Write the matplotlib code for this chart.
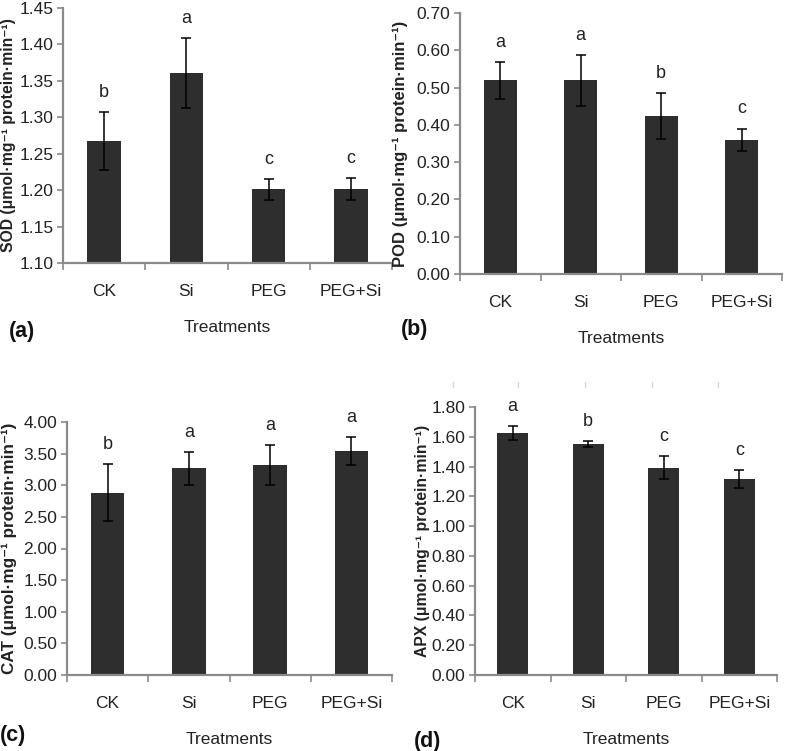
import numpy as np
import matplotlib.pyplot as plt
from matplotlib.lines import Line2D

# treatments on the x axis (same in every panel)
treatments = ['CK', 'Si', 'PEG', 'PEG+Si']

# (a) SOD
sod_mean = [1.267, 1.361, 1.201, 1.201]
sod_err = [0.040, 0.048, 0.014, 0.015]
sod_letters = ['b', 'a', 'c', 'c']

# (b) POD
pod_mean = [0.519, 0.519, 0.424, 0.360]
pod_err = [0.050, 0.068, 0.062, 0.030]
pod_letters = ['a', 'a', 'b', 'c']

# (c) CAT
cat_mean = [2.88, 3.27, 3.32, 3.54]
cat_err = [0.45, 0.26, 0.31, 0.22]
cat_letters = ['b', 'a', 'a', 'a']

# (d) APX
apx_mean = [1.625, 1.552, 1.392, 1.316]
apx_err = [0.047, 0.022, 0.078, 0.058]
apx_letters = ['a', 'b', 'c', 'c']

W, H = 787, 751
PLAIN = ['Liberation Sans', 'DejaVu Sans']
BOLD = ['Liberation Sans', 'DejaVu Sans']
AXIS_GRAY = '#8a8a8a'
BAR_COLOR = '#2e2e2e'
TEXT = '#222222'


def box(left, top, right, bottom):
    """Pixel box -> figure fraction [l, b, w, h]."""
    return [left / W, 1 - bottom / H, (right - left) / W, (bottom - top) / H]


def draw_panel(ax, means, errs, letters, ylabel, ylim, step, label_x, ylabel_size):
    x = np.arange(len(treatments))
    ax.bar(x, means, width=0.41, color=BAR_COLOR, zorder=2)
    ax.errorbar(x, means, yerr=errs, fmt='none', ecolor='black',
                elinewidth=1.1, capsize=3.5, capthick=1.1, zorder=3)
    for xi, m, e, t in zip(x, means, errs, letters):
        ax.annotate(t, (xi, m + e), xytext=(0, 8), textcoords='offset points',
                    ha='center', va='bottom', fontsize=13, family=PLAIN,
                    color=TEXT)

    ax.set_xlim(-0.5, len(treatments) - 0.5)
    ax.set_ylim(*ylim)
    ax.set_yticks(np.arange(ylim[0], ylim[1] + step / 2, step))
    ax.set_yticklabels([f'{v:.2f}' for v in ax.get_yticks()])
    ax.set_xticks(x)
    ax.set_xticklabels(treatments)
    ax.set_xticks(np.arange(-0.5, len(treatments)), minor=True)

    for s in ['top', 'right']:
        ax.spines[s].set_visible(False)
    for s in ['left', 'bottom']:
        ax.spines[s].set_color(AXIS_GRAY)
        ax.spines[s].set_linewidth(1.6)

    ax.tick_params(axis='x', which='major', length=0, pad=15)
    ax.tick_params(axis='x', which='minor', length=5, width=1.2,
                   color=AXIS_GRAY, direction='out')
    ax.tick_params(axis='y', length=4, width=1.2, color=AXIS_GRAY,
                   direction='out', pad=3)
    for lab in ax.get_xticklabels() + ax.get_yticklabels():
        lab.set_family(PLAIN)
        lab.set_fontsize(12.5)
        lab.set_color(TEXT)

    ax.set_xlabel('Treatments', fontsize=12.5, family=PLAIN, color=TEXT,
                  labelpad=15)
    ax.set_ylabel(ylabel, fontsize=ylabel_size, family=BOLD,
                  fontweight='bold', color=TEXT, va='center')
    ax.yaxis.set_label_coords(label_x, 0.5)


fig = plt.figure(figsize=(W / 100, H / 100), dpi=100)

ax_a = fig.add_axes(box(63, 8, 392, 263))
ax_b = fig.add_axes(box(460, 13, 782, 274))
ax_c = fig.add_axes(box(67, 422, 392, 675))
ax_d = fig.add_axes(box(475, 407, 777, 675))

draw_panel(ax_a, sod_mean, sod_err, sod_letters,
           'SOD (μmol·mg⁻¹ protein·min⁻¹)', (1.10, 1.45), 0.05, -54 / 329, 11.3)
draw_panel(ax_b, pod_mean, pod_err, pod_letters,
           'POD (μmol·mg⁻¹ protein·min⁻¹)', (0.0, 0.70), 0.10, -60 / 322, 12)
draw_panel(ax_c, cat_mean, cat_err, cat_letters,
           'CAT (μmol·mg⁻¹ protein·min⁻¹)', (0.0, 4.0), 0.50, -58 / 325, 12.3)
draw_panel(ax_d, apx_mean, apx_err, apx_letters,
           'APX (μmol·mg⁻¹ protein·min⁻¹)', (0.0, 1.80), 0.20, -53 / 302, 11.3)

# panel letters
for txt, px, py in [('(a)', 22, 332), ('(b)', 415, 330),
                    ('(c)', 13, 735), ('(d)', 428, 742)]:
    fig.text(px / W, 1 - py / H, txt, fontsize=15.5, fontweight='bold',
             family=BOLD, ha='center', va='center', color='#111111')

# faint crop marks left above panel (d) in the source figure
for px in [453, 518, 585, 652, 718]:
    fig.add_artist(Line2D([px / W, px / W], [1 - 382 / H, 1 - 387 / H],
                          color='#d6d6d6', linewidth=1))

fig.savefig('out.png', dpi=100)
